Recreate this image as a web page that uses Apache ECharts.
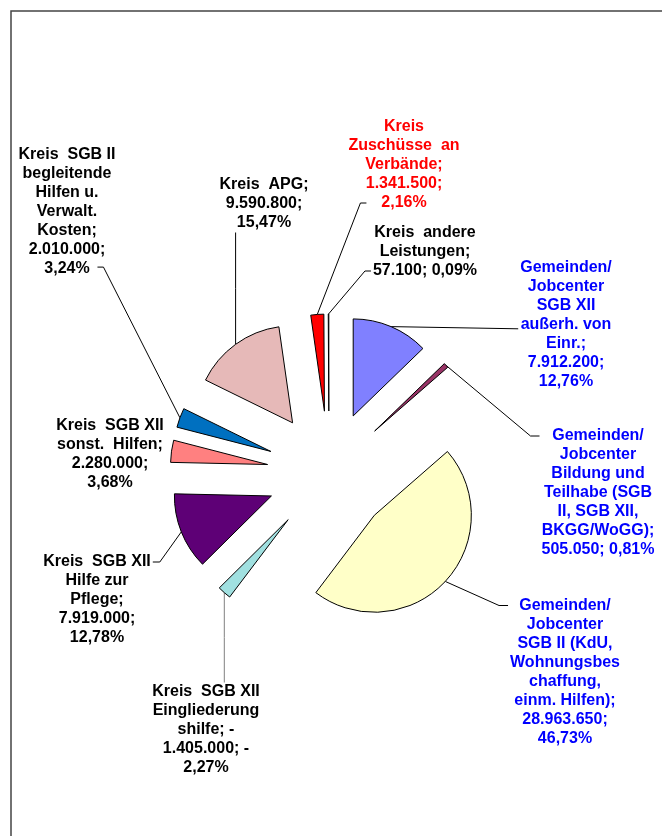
<!DOCTYPE html>
<html>
<head>
<meta charset="utf-8">
<script src="https://cdn.jsdelivr.net/npm/echarts@6/dist/echarts.min.js"></script>
<style>
  html, body { margin: 0; padding: 0; background: #fff; }
  #chart { width: 662px; height: 836px; }
</style>
</head>
<body>
<div id="chart"></div>
<script>
// Namen der Anteile (Umbrüche wie im Original)
const names = [
  'Gemeinden/\nJobcenter\nSGB XII\naußerh. von\nEinr.',
  'Gemeinden/\nJobcenter\nBildung und\nTeilhabe (SGB\nII, SGB XII,\nBKGG/WoGG)',
  'Gemeinden/\nJobcenter\nSGB II (KdU,\nWohnungsbes\nchaffung,\neinm. Hilfen)',
  'Kreis  SGB XII\nEingliederung\nshilfe',
  'Kreis  SGB XII\nHilfe zur\nPflege',
  'Kreis  SGB XII\nsonst.  Hilfen',
  'Kreis  SGB II\nbegleitende\nHilfen u.\nVerwalt.\nKosten',
  'Kreis  APG',
  'Kreis\nZuschüsse  an\nVerbände',
  'Kreis  andere\nLeistungen'
]

// Beträge in Euro
const values = [7912200, 505050, 28963650, -1405000, 7919000, 2280000, 2010000, 9590800, 1341500, 57100]

// Trenner nach dem Namen bzw. nach dem Betrag
const sepName = ['\n', '\n', '\n', ' ', '\n', '\n', '\n', '\n', '\n', '\n']
const sepValue = ['\n', ' ', '\n', ' ', '\n', '\n', '\n', '\n', '\n', ' ']

// Farben
const sliceColors = ['#8080FF', '#993366', '#FFFFC8', '#A0E0E0', '#5E0076', '#FF8080', '#0070C0', '#E6B9B8', '#FF0000', '#FFFFFF']
const labelColors = ['#0000FF', '#0000FF', '#0000FF', '#000', '#000', '#000', '#000', '#000', '#FF0000', '#000']

// Position der Beschriftungen (Mitte)
const labelPos = [
  [566, 325], [598, 493], [565, 672], [206, 730], [97, 600],
  [110, 454], [67, 212], [264, 204], [404, 165], [425, 252]
]

// Anschluss der Führungslinien an die Beschriftung
const leaders = [
  { side: 'left', k: 3.7, stub: 0 },
  { side: 'left', k: 0.5, stub: 9 },
  { side: 'left', k: 0.5, stub: 9 },
  { side: 'top' },
  { side: 'right', k: 0.5, stub: 7 },
  null,
  { side: 'right', k: 6.4, stub: 6, inset: 20 },
  { side: 'bottom' },
  { side: 'left', k: 4.5, stub: 6, inset: 20 },
  { side: 'left', k: 2.5, stub: 6 }
]

const pieCenter = [329, 473]
const pieRadius = 97
const explode = 62
const lineH = 19

const total = values.reduce((s, v) => s + Math.abs(v), 0)

// 1234567 -> 1.234.567
const fmtNum = n => String(Math.abs(n)).replace(/\B(?=(\d{3})+(?!\d))/g, '.')
const fmtPct = n => (Math.abs(n) / total * 100).toFixed(2).replace('.', ',') + '%'
const sign = n => (n < 0 ? '-\n' : '')

const chart = echarts.init(document.getElementById('chart'))

// Mitte des Bogens eines herausgezogenen Segments (aus dem Layout der Serie)
const arcMid = i => {
  const lay = chart.getModel().getSeriesByIndex(0).getData().getItemLayout(i)
  const mid = (lay.startAngle + lay.endAngle) / 2
  const d = lay.r + explode
  return [lay.cx + d * Math.cos(mid), lay.cy + d * Math.sin(mid)]
}

const labelLayout = params => {
  const i = params.dataIndex
  const p = labelPos[i]
  const w = params.labelRect.width
  const h = params.labelRect.height
  const res = { x: p[0], y: p[1], align: 'center', verticalAlign: 'middle' }
  const ld = leaders[i]
  if (!ld) return res
  const m = arcMid(i)
  const top = p[1] - h / 2
  if (ld.side === 'top') {
    res.labelLinePoints = [m, [m[0], (m[1] + top) / 2], [m[0], top]]
  } else if (ld.side === 'bottom') {
    const bottom = p[1] + h / 2
    res.labelLinePoints = [m, [m[0], (m[1] + bottom) / 2], [m[0], bottom]]
  } else {
    const y = top + ld.k * lineH
    const inset = ld.inset || 0
    const x = ld.side === 'left' ? p[0] - w / 2 + inset - 2 : p[0] + w / 2 - inset + 2
    const sx = ld.side === 'left' ? x - ld.stub : x + ld.stub
    res.labelLinePoints = [m, [sx, y], [x, y]]
  }
  return res
}

const option = {
  backgroundColor: '#fff',
  animation: false,
  graphic: [
    {
      type: 'rect',
      shape: { x: 11, y: 11, width: 700, height: 900 },
      style: { fill: null, stroke: '#444', lineWidth: 1.5 },
      silent: true
    }
  ],
  series: [
    {
      // herausgezogene Segmente
      type: 'pie',
      center: pieCenter,
      radius: pieRadius,
      startAngle: 90,
      clockwise: true,
      selectedMode: 'multiple',
      selectedOffset: explode,
      emphasis: { disabled: true },
      itemStyle: { borderColor: '#000', borderWidth: 1 },
      select: { itemStyle: { borderColor: '#000', borderWidth: 1 } },
      label: { show: false },
      labelLine: { show: false },
      data: values.map((v, i) => ({
        name: names[i],
        value: Math.abs(v),
        selected: true,
        itemStyle: { color: sliceColors[i] }
      }))
    },
    {
      // Beschriftungen mit Führungslinien
      type: 'pie',
      center: pieCenter,
      radius: pieRadius,
      startAngle: 90,
      clockwise: true,
      silent: true,
      avoidLabelOverlap: false,
      emphasis: { disabled: true },
      itemStyle: { color: 'rgba(0,0,0,0)', borderWidth: 0 },
      label: {
        show: true,
        position: 'outside',
        fontFamily: 'Liberation Sans, Arial, sans-serif',
        fontWeight: 'bold',
        fontSize: 16,
        lineHeight: lineH,
        align: 'center',
        formatter: p => {
          const i = p.dataIndex
          const v = values[i]
          return names[i] + ';' + sepName[i] + sign(v) + fmtNum(v) + ';' + sepValue[i] + sign(v) + fmtPct(v)
        }
      },
      labelLine: {
        show: true,
        length: 10,
        length2: 8,
        lineStyle: { color: '#000', width: 1 }
      },
      labelLayout: labelLayout,
      data: values.map((v, i) => ({
        name: names[i],
        value: Math.abs(v),
        label: { color: labelColors[i] },
        labelLine: i === 5 ? { show: false } : (i === 3 ? { lineStyle: { color: '#808080' } } : {})
      }))
    }
  ]
}

chart.setOption(option)
</script>
</body>
</html>
